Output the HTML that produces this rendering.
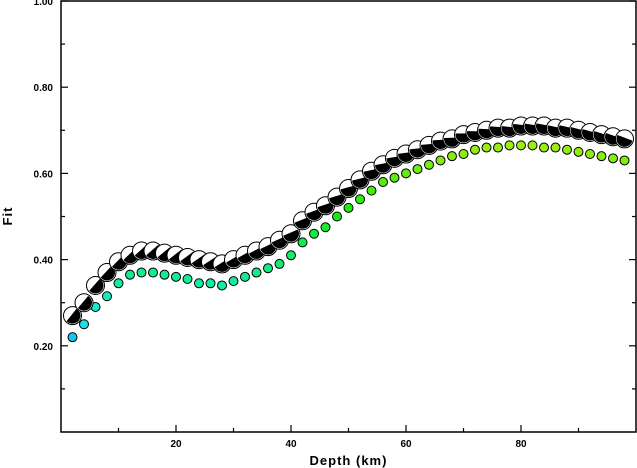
<!DOCTYPE html>
<html><head><meta charset="utf-8"><style>
body{margin:0;background:#fff}
svg{display:block;font-family:"Liberation Sans",sans-serif}
</style></head><body>
<svg id="chart" width="637" height="468">
<g id="axes"></g><g id="marks"></g>
</svg>
<script>
const depths=[2,4,6,8,10,12,14,16,18,20,22,24,26,28,30,32,34,36,38,40,42,44,46,48,50,52,54,56,58,60,62,64,66,68,70,72,74,76,78,80,82,84,86,88,90,92,94,96,98];
const mechFit=[0.27,0.30,0.34,0.37,0.395,0.41,0.42,0.42,0.415,0.41,0.405,0.40,0.395,0.39,0.40,0.41,0.42,0.43,0.445,0.46,0.49,0.51,0.525,0.545,0.565,0.585,0.605,0.62,0.635,0.645,0.655,0.665,0.675,0.68,0.69,0.695,0.70,0.705,0.705,0.71,0.71,0.71,0.705,0.705,0.70,0.695,0.69,0.685,0.68];
const dotFit=[0.22,0.25,0.29,0.315,0.345,0.365,0.37,0.37,0.365,0.36,0.355,0.345,0.345,0.34,0.35,0.36,0.37,0.38,0.39,0.41,0.44,0.46,0.475,0.50,0.52,0.54,0.56,0.58,0.59,0.60,0.61,0.62,0.63,0.64,0.645,0.655,0.66,0.66,0.665,0.665,0.665,0.66,0.66,0.655,0.65,0.645,0.64,0.635,0.63];
const xTicks=[20,40,60,80];
const yTicks=[0.20,0.40,0.60,0.80,1.00];
const NS="http://www.w3.org/2000/svg";
const X0=61,X1=636,Y0=432,Y1=1;
const xs=d=>X0+(d/100)*(X1-X0);
const ys=f=>Y0-(f/1.0)*(Y0-Y1);
function mk(t,a,p){const e=document.createElementNS(NS,t);for(const k in a)e.setAttribute(k,a[k]);p.appendChild(e);return e;}
const axes=document.getElementById('axes'),marks=document.getElementById('marks');
const frame=mk('rect',{x:X0,y:Y1,width:X1-X0,height:Y0-Y1,fill:'none',stroke:'#000','stroke-width':1.5},axes);


for(let v=0.1;v<1.0;v+=0.1){
  const y=ys(v),major=Math.abs(v*10%2)<0.01||Math.abs(v*10%2-2)<0.01;
  const len=Math.round(v*10)%2===0?7:4;
  const t1=mk('line',{x1:X0,x2:X0+len,y1:y,y2:y,stroke:'#000','stroke-width':1.2},axes);
  
  
  const t2=mk('line',{x1:X1,x2:X1-len,y1:y,y2:y,stroke:'#000','stroke-width':1.2},axes);
  
  
}
for(let d=10;d<100;d+=10){
  const x=xs(d),len=d%20===0?7:4;
  const t=mk('line',{x1:x,x2:x,y1:Y0,y2:Y0-len,stroke:'#000','stroke-width':1.2},axes);
  
  
}
yTicks.forEach(v=>{
  const t=mk('text',{x:X0-8,y:ys(v)+4,'text-anchor':'end','font-size':10,'font-weight':'bold'},axes);
  t.textContent=v.toFixed(2);
  
  
});
xTicks.forEach(v=>{
  const t=mk('text',{x:xs(v),y:Y0+15,'text-anchor':'middle','font-size':10,'font-weight':'bold'},axes);
  t.textContent=v;
  
  
});
const xt=mk('text',{x:(X0+X1)/2,y:465,'text-anchor':'middle','font-size':13,'font-weight':'bold','letter-spacing':1},axes);
xt.textContent='Depth (km)';


const yt=mk('text',{x:12,y:216,'text-anchor':'middle','font-size':13,'font-weight':'bold','letter-spacing':1,transform:'rotate(-90 12 216)'},axes);
yt.textContent='Fit';


function dotColor(f){const t=Math.max(0,Math.min(1,(f-0.22)/0.45));const h=190-t*110;return `hsl(${h},85%,50%)`;}
depths.forEach((d,i)=>{
  const c=mk('circle',{cx:xs(d),cy:ys(dotFit[i]),r:4.5,fill:dotColor(dotFit[i]),stroke:'#000','stroke-width':1},marks);
  
  
});
depths.forEach((d,i)=>{
  const cx=xs(d),cy=ys(mechFit[i]),r=8;
  const g=mk('g',{},marks);
  
  
  mk('circle',{cx:cx,cy:cy,r:r+1,fill:'#fff',stroke:'#000','stroke-width':1},g);
  const a=(-60+i*1.5)*Math.PI/180;
  const x1=cx+r*Math.cos(a),y1=cy+r*Math.sin(a),x2=cx-r*Math.cos(a+0.3),y2=cy-r*Math.sin(a+0.3);
  mk('path',{d:`M${x1},${y1} A${r},${r} 0 1 1 ${x2},${y2} Z`,fill:'#000'},g);
});
</script>
</body></html>
